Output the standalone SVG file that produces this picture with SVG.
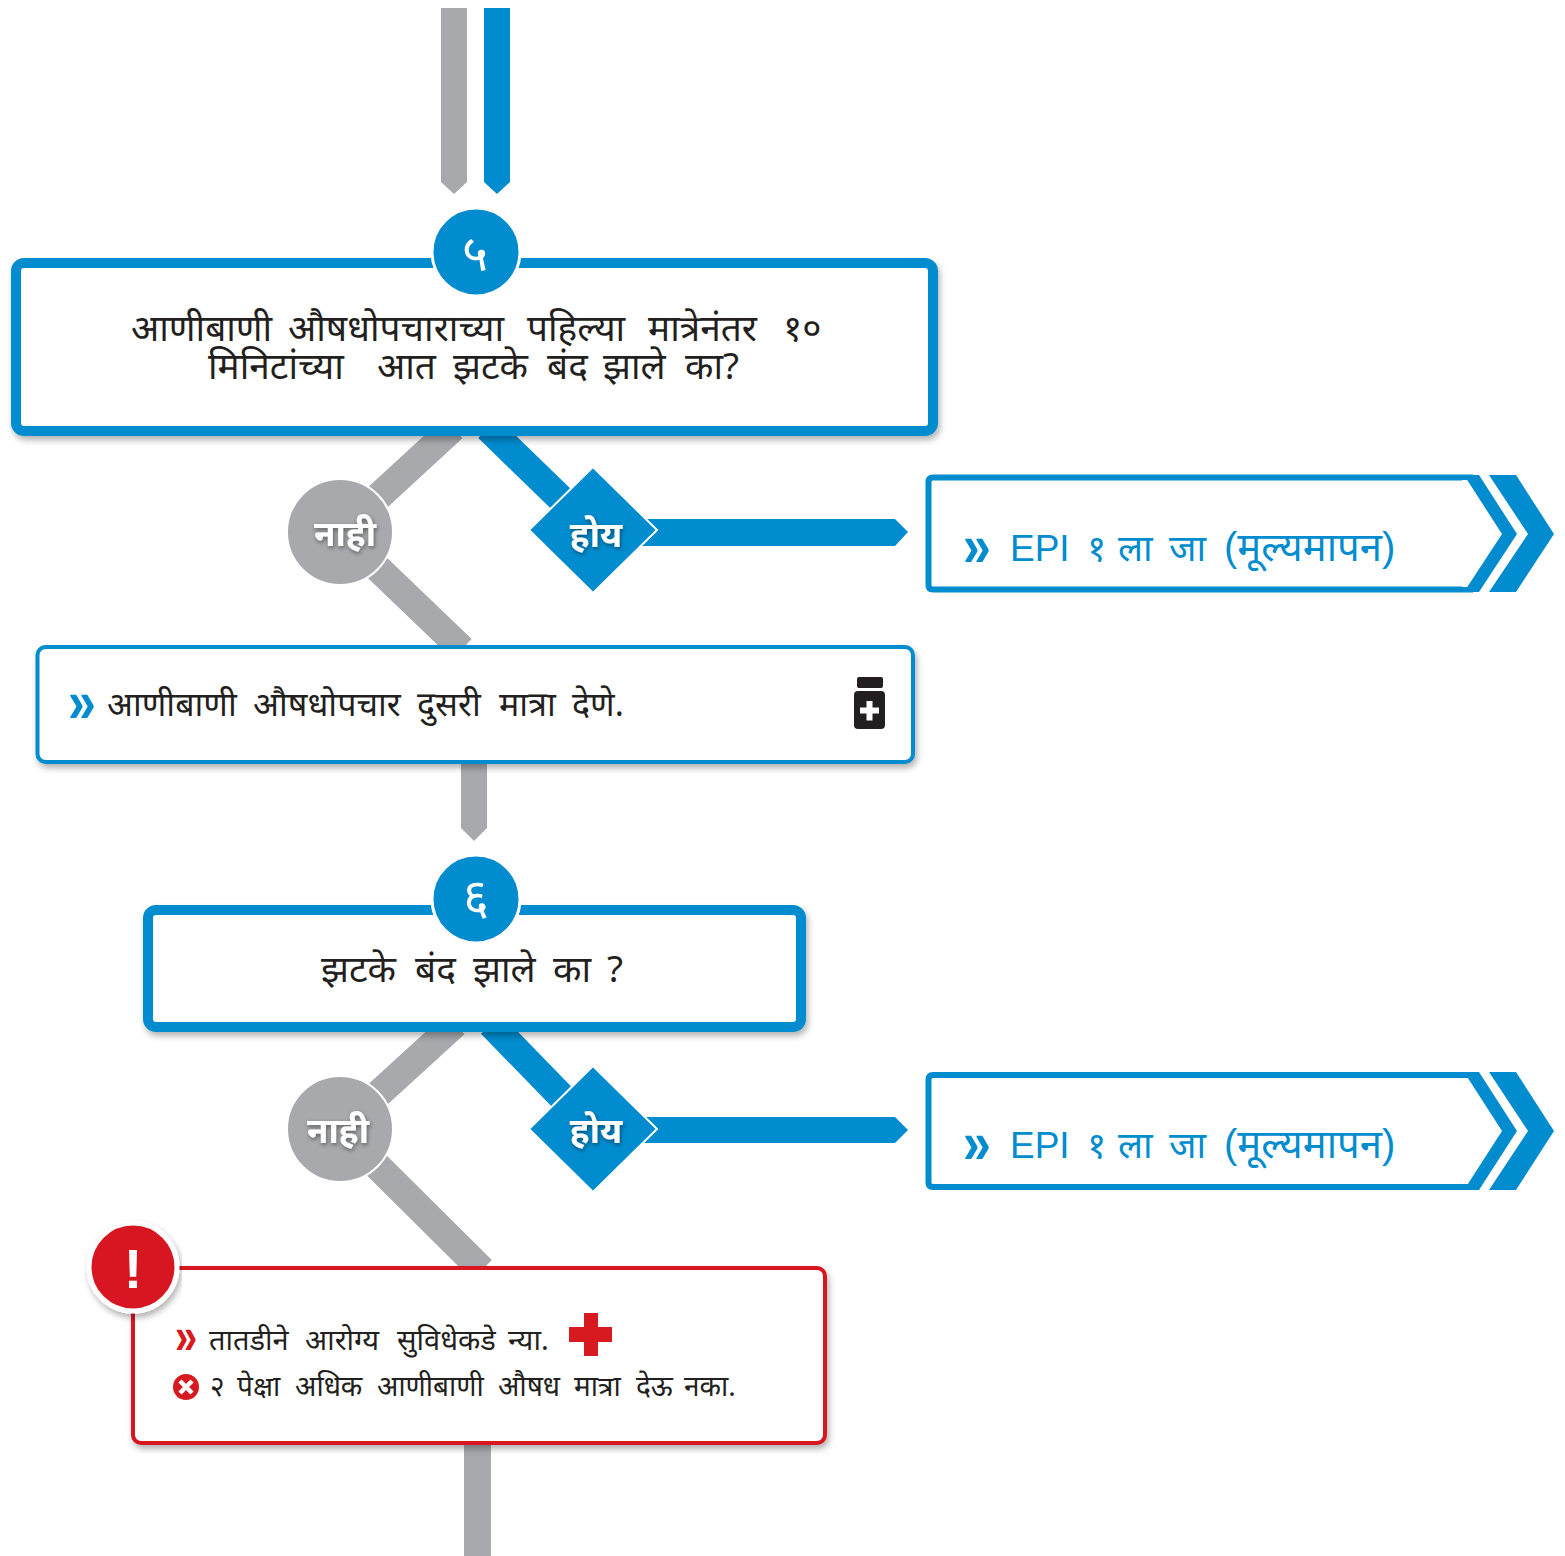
<svg xmlns="http://www.w3.org/2000/svg" width="1565" height="1556" viewBox="0 0 1565 1556">
<style>
text{font-family:"Noto Sans","Liberation Sans",sans-serif}
.g{fill:#a7a9ac}.b{fill:#008ccf}.r{fill:#d71920}
.lg{stroke:#a7a9ac;stroke-width:28;fill:none}
.lb{stroke:#008ccf;stroke-width:28;fill:none}
.box{fill:#fff;stroke:#008ccf;filter:url(#s)}
.big{font-size:37px;fill:#231f20}
.mid{font-size:34px;fill:#231f20}
.sm1{font-size:29px;fill:#231f20}
.sm2{font-size:28px;fill:#231f20}
.epi{font-size:37px;fill:#008ccf;font-family:"Liberation Sans","Noto Sans",sans-serif}
.lab{font-size:35px;font-weight:700;fill:#fff;text-anchor:middle;filter:url(#ts)}
.num{font-size:50px;fill:#fff;text-anchor:middle}
.chev{font-weight:700;font-family:"Liberation Sans",sans-serif}
</style>
<defs>
<filter id="s" x="-5%" y="-10%" width="110%" height="125%"><feDropShadow dx="2" dy="4" stdDeviation="3" flood-color="#000" flood-opacity=".3"/></filter>
<filter id="ts" x="-20%" y="-20%" width="140%" height="140%"><feDropShadow dx="1" dy="2" stdDeviation="2" flood-color="#000" flood-opacity=".45"/></filter>
</defs>
<g id="connectors">
<polygon class="g" points="441,8 467,8 467,182 454,194 441,182"/>
<polygon class="b" points="484,8 510,8 510,182 497,194 484,182"/>
<path class="lg" d="M453 428L340 532L462 649"/>
<path class="lb" d="M488 428L593 530"/>
<polygon class="b" points="640,519 895,519 908,532 895,546 640,546"/>
<polygon class="g" points="461,760 487,760 487,828 474,841 461,828"/>
<path class="lg" d="M455 1024L340 1129L482 1270"/>
<path class="lb" d="M491 1024L593 1129"/>
<polygon class="b" points="640,1117 895,1117 908,1130 895,1143 640,1143"/>
<rect class="g" x="464" y="1440" width="27" height="116"/>
</g>
<g id="node-5">
<rect class="box" x="16" y="263" width="917" height="168" rx="8" stroke-width="10"/>
<circle class="b" cx="476" cy="252" r="44" stroke="#fff" stroke-width="3"/>
<text class="num" x="475" y="270">५</text>
<text class="big" y="341"><tspan x="131">आणीबाणी </tspan><tspan x="288">औषधोपचाराच्या </tspan><tspan x="527">पहिल्या </tspan><tspan x="648">मात्रेनंतर </tspan><tspan x="783">१०</tspan></text>
<text class="big" y="379"><tspan x="208">मिनिटांच्या </tspan><tspan x="377">आत </tspan><tspan x="453">झटके </tspan><tspan x="547">बंद </tspan><tspan x="603">झाले </tspan><tspan x="685">का?</tspan></text>
</g>
<g id="no-1">
<circle class="g" cx="340" cy="532" r="53" stroke="#fff" stroke-width="2"/>
<text class="lab" x="345" y="546">नाही</text>
</g>
<g id="yes-1">
<polygon class="b" points="593,467 657,530 593,593 529,530" stroke="#fff" stroke-width="2"/>
<text class="lab" x="596" y="547">होय</text>
</g>
<g id="epi-1">
<path d="M933 477.500H1470V589.500H933Q928.500 589.500 928.500 585V482Q928.500 477.500 933 477.500Z" fill="#fff" stroke="#008ccf" stroke-width="6"/>
<polygon fill="#fff" points="1462,480 1520,480 1520,587 1462,587"/>
<polygon class="b" points="1464,475 1479,475 1517,534 1479,592 1464,592 1502,534"/>
<polygon class="b" points="1489,475 1516,475 1554,534 1516,592 1489,592 1528,534"/>
<text class="chev" transform="translate(963 566) scale(1 1.2)" font-size="50" fill="#008ccf">»</text>
<text class="epi" y="561"><tspan x="1010">EPI </tspan><tspan x="1087">१ </tspan><tspan x="1118">ला </tspan><tspan x="1169">जा </tspan><tspan x="1224" font-size="40">(मूल्यमापन)</tspan></text>
</g>
<g id="dose-2">
<rect class="box" x="37.500" y="647" width="875.500" height="115" rx="8" stroke-width="4"/>
<text class="chev" transform="translate(68 722) scale(1 1.2)" font-size="50" fill="#008ccf">»</text>
<text class="mid" y="716"><tspan x="107">आणीबाणी </tspan><tspan x="253">औषधोपचार </tspan><tspan x="417">दुसरी </tspan><tspan x="499">मात्रा </tspan><tspan x="572">देणे.</tspan></text>
<rect x="857" y="677" width="26" height="11" rx="2" fill="#231f20"/>
<rect x="854" y="691" width="31" height="38" rx="4" fill="#231f20"/>
<path d="M866.500 701h6v6.500h6.500v6h-6.500v7h-6v-7H860v-6h6.500z" fill="#fff"/>
</g>
<g id="node-6">
<rect class="box" x="148" y="910" width="653" height="117" rx="8" stroke-width="10"/>
<circle class="b" cx="476" cy="899" r="44" stroke="#fff" stroke-width="3"/>
<text class="num" x="476" y="914">६</text>
<text class="big" y="982"><tspan x="321">झटके </tspan><tspan x="415">बंद </tspan><tspan x="473">झाले </tspan><tspan x="553">का </tspan><tspan x="607">?</tspan></text>
</g>
<g id="no-2">
<circle class="g" cx="340" cy="1129" r="53" stroke="#fff" stroke-width="2"/>
<text class="lab" x="338" y="1143">नाही</text>
</g>
<g id="yes-2">
<polygon class="b" points="593,1066 657,1129 593,1192 529,1129" stroke="#fff" stroke-width="2"/>
<text class="lab" x="596" y="1143">होय</text>
</g>
<g id="epi-2">
<path d="M933 1075H1470V1187H933Q928.500 1187 928.500 1182.500V1079.500Q928.500 1075 933 1075Z" fill="#fff" stroke="#008ccf" stroke-width="6"/>
<polygon fill="#fff" points="1462,1078 1520,1078 1520,1184 1462,1184"/>
<polygon class="b" points="1464,1072 1479,1072 1517,1131 1479,1190 1464,1190 1502,1131"/>
<polygon class="b" points="1489,1072 1516,1072 1554,1131 1516,1190 1489,1190 1528,1131"/>
<text class="chev" transform="translate(963 1163) scale(1 1.2)" font-size="50" fill="#008ccf">»</text>
<text class="epi" y="1158"><tspan x="1010">EPI </tspan><tspan x="1087">१ </tspan><tspan x="1118">ला </tspan><tspan x="1169">जा </tspan><tspan x="1224" font-size="40">(मूल्यमापन)</tspan></text>
</g>
<g id="alert">
<rect class="box" x="133" y="1268" width="692" height="175" rx="8" stroke-width="4" style="stroke:#d71920"/>
<circle class="r" cx="133" cy="1267" r="44" stroke="#fff" stroke-width="5" filter="url(#s)"/>
<text x="133" y="1288" font-size="56" font-weight="700" fill="#fff" text-anchor="middle" style="font-family:'Liberation Sans',sans-serif">!</text>
<text class="chev" transform="translate(175 1353.500) scale(1 1.3)" font-size="40" fill="#d71920">»</text>
<text class="sm1" y="1350"><tspan x="209">तातडीने </tspan><tspan x="305">आरोग्य </tspan><tspan x="397">सुविधेकडे </tspan><tspan x="508">न्या.</tspan></text>
<path class="r" d="M584 1313h14v14h14v15h-14v14h-14v-14h-15v-15h15z"/>
<circle class="r" cx="186" cy="1387" r="13"/>
<path d="M180 1381L192 1393M192 1381L180 1393" stroke="#fff" stroke-width="4.500"/>
<text class="sm2" y="1396"><tspan x="210">२ </tspan><tspan x="237">पेक्षा </tspan><tspan x="295">अधिक </tspan><tspan x="377">आणीबाणी </tspan><tspan x="498">औषध </tspan><tspan x="574">मात्रा </tspan><tspan x="636">देऊ </tspan><tspan x="684">नका.</tspan></text>
</g>
</svg>
